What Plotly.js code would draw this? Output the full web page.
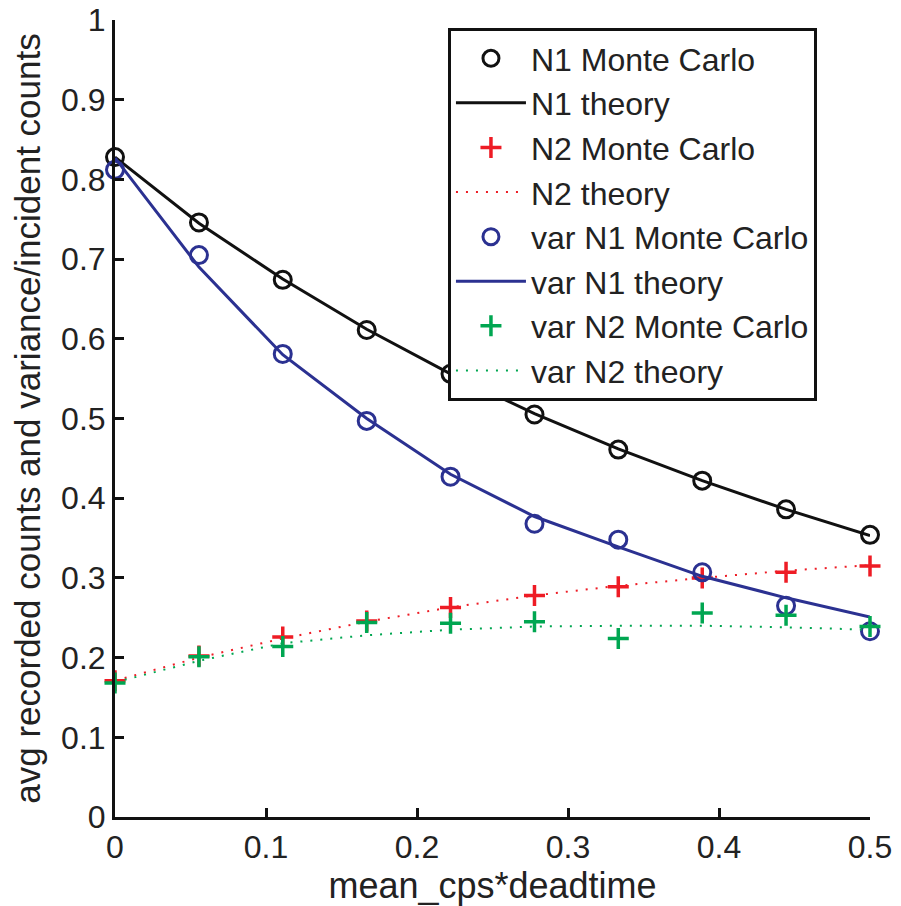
<!DOCTYPE html>
<html>
<head>
<meta charset="utf-8">
<script src="https://cdn.plot.ly/plotly-3.0.1.min.js"></script>
<style>html,body{margin:0;padding:0;background:#fff;}#chart{width:901px;height:906px;}</style>
</head>
<body>
<div id="chart"></div>
<script>
// x values: mean_cps*deadtime
const xVals = [0, 0.0556, 0.1111, 0.1667, 0.2222, 0.2778, 0.3333, 0.3889, 0.4444, 0.5];

const n1MonteCarlo   = [0.828, 0.746, 0.674, 0.611, 0.556, 0.505, 0.461, 0.422, 0.386, 0.354];
const n1Theory       = [0.828, 0.745, 0.675, 0.612, 0.556, 0.506, 0.462, 0.422, 0.386, 0.353];
const n2MonteCarlo   = [0.171, 0.202, 0.226, 0.246, 0.263, 0.278, 0.289, 0.300, 0.307, 0.315];
const n2Theory       = [0.171, 0.200, 0.224, 0.245, 0.263, 0.278, 0.290, 0.300, 0.309, 0.316];
const varN1MonteCarlo= [0.812, 0.705, 0.581, 0.497, 0.427, 0.368, 0.348, 0.307, 0.265, 0.233];
const varN1Theory    = [0.827, 0.690, 0.580, 0.500, 0.430, 0.377, 0.339, 0.302, 0.275, 0.251];
const varN2MonteCarlo= [0.168, 0.201, 0.214, 0.244, 0.243, 0.245, 0.224, 0.256, 0.253, 0.239];
const varN2Theory    = [0.169, 0.196, 0.218, 0.228, 0.235, 0.239, 0.240, 0.240, 0.238, 0.235];

const seriesNames = ["N1 Monte Carlo", "N1 theory", "N2 Monte Carlo", "N2 theory",
                     "var N1 Monte Carlo", "var N1 theory", "var N2 Monte Carlo", "var N2 theory"];
const xTickVals = [0, 0.1, 0.2, 0.3, 0.4, 0.5];
const xTickText = ["0", "0.1", "0.2", "0.3", "0.4", "0.5"];
const yTickVals = [0, 0.1, 0.2, 0.3, 0.4, 0.5, 0.6, 0.7, 0.8, 0.9, 1];
const yTickText = ["0", "0.1", "0.2", "0.3", "0.4", "0.5", "0.6", "0.7", "0.8", "0.9", "1"];

const BLACK = "#111111", RED = "#ee1c25", BLUE = "#2b3191", GREEN = "#00a651";
const FONT = "Liberation Sans, Arial, Helvetica, sans-serif";

function circles(y, name, color) {
  return {x: xVals, y: y, name: name, type: "scatter", mode: "markers", cliponaxis: false,
    marker: {symbol: "circle-open", size: 17, color: color, line: {width: 3, color: color}}};
}
function pluses(y, name, color) {
  return {x: xVals, y: y, name: name, type: "scatter", mode: "markers", cliponaxis: false,
    marker: {symbol: "cross-thin-open", size: 15, color: color, line: {width: 3.5, color: color}}};
}
function line(y, name, color, dash) {
  return {x: xVals, y: y, name: name, type: "scatter", mode: "lines", cliponaxis: false,
    line: {color: color, width: dash ? 2 : 3, dash: dash || "solid"}};
}

const data = [
  line(n1Theory, seriesNames[1], BLACK),
  circles(n1MonteCarlo, seriesNames[0], BLACK),
  line(n2Theory, seriesNames[3], RED, "2px,8px"),
  pluses(n2MonteCarlo, seriesNames[2], RED),
  line(varN1Theory, seriesNames[5], BLUE),
  circles(varN1MonteCarlo, seriesNames[4], BLUE),
  line(varN2Theory, seriesNames[7], GREEN, "2px,8px"),
  pluses(varN2MonteCarlo, seriesNames[6], GREEN)
];
// legend order as in the reference
const legendOrder = [1, 0, 3, 2, 5, 4, 7, 6];
data.forEach((t, i) => { t.legendrank = legendOrder[i]; });

const layout = {
  width: 901, height: 906,
  margin: {l: 115, r: 31, t: 20, b: 89},
  paper_bgcolor: "#fff", plot_bgcolor: "#fff",
  font: {family: FONT, color: "#222", size: 32},
  showlegend: true,
  legend: {
    x: 0.441, y: 0.99, xanchor: "left", yanchor: "top",
    bgcolor: "#fff", bordercolor: "#111", borderwidth: 3,
    font: {family: FONT, size: 32, color: "#222"},
    itemwidth: 70, tracegroupgap: 0, traceorder: "normal"
  },
  xaxis: {
    range: [0, 0.5], tickvals: xTickVals, ticktext: xTickText,
    showgrid: false, zeroline: false, showline: true, linewidth: 3, linecolor: "#111",
    ticks: "inside", ticklen: 9, tickwidth: 3, tickcolor: "#111",
    tickfont: {family: FONT, size: 32, color: "#222"},
    title: {text: "mean_cps*deadtime", font: {family: FONT, size: 36, color: "#222"}, standoff: 4}
  },
  yaxis: {
    range: [0, 1], tickvals: yTickVals, ticktext: yTickText,
    showgrid: false, zeroline: false, showline: true, linewidth: 3, linecolor: "#111",
    ticks: "inside", ticklen: 9, tickwidth: 3, tickcolor: "#111",
    tickfont: {family: FONT, size: 32, color: "#222"},
    title: {text: "avg recorded counts and variance/incident counts", font: {family: FONT, size: 35, color: "#222"}, standoff: 10}
  }
};

Plotly.newPlot("chart", data, layout, {displayModeBar: false, staticPlot: true});
</script>
</body>
</html>
